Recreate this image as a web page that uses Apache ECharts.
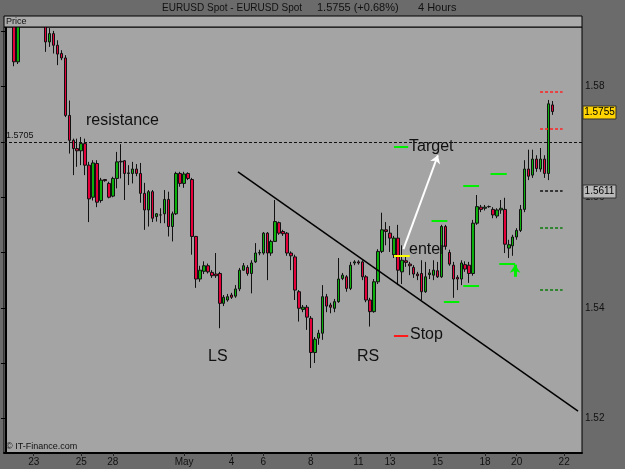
<!DOCTYPE html>
<html><head><meta charset="utf-8">
<script src="https://cdn.jsdelivr.net/npm/echarts@6/dist/echarts.min.js"></script>
<style>html,body{margin:0;padding:0;background:#6b6b6b}#c{width:625px;height:469px}</style>
</head><body><div id="c"></div>
<script>
// ---- data (EURUSD 4h, one entry per bar slot) ----
const opens  = [1.5985,1.5975,1.5935,1.5845,1.5925,1.5950,1.5945,1.5930,1.5940,1.5925,
1.5915,1.5881,1.5896,1.5875,1.5860,1.5852,1.5748,1.5703,1.5688,1.5684,
1.5697,1.5658,1.5600,1.5661,1.5594,1.5632,1.5625,1.5602,1.5634,1.5664,
1.5666,1.5643,1.5643,1.5651,1.5643,1.5607,1.5577,1.5610,1.5565,1.5568,
1.5570,1.5596,1.5547,1.5570,1.5643,1.5625,1.5643,1.5632,1.5529,1.5452,
1.5466,1.5476,1.5464,1.5461,1.5462,1.5408,1.5414,1.5423,1.5421,1.5434,
1.5468,1.5473,1.5462,1.5483,1.5499,1.5499,1.5535,1.5499,1.5520,1.5554,
1.5538,1.5535,1.5499,1.5492,1.5429,1.5397,1.5401,1.5381,1.5319,1.5345,
1.5354,1.5420,1.5405,1.5399,1.5411,1.5453,1.5456,1.5435,1.5481,1.5483,
1.5483,1.5456,1.5414,1.5393,1.5447,1.5502,1.5541,1.5535,1.5496,1.5526,
1.5465,1.5485,1.5479,1.5473,1.5461,1.5462,1.5429,1.5460,1.5459,1.5467,
1.5456,1.5547,1.5500,1.5477,1.5455,1.5452,1.5478,1.5477,1.5462,1.5553,
1.5582,1.5580,1.5583,1.5578,1.5566,1.5577,1.5578,1.5508,1.5512,1.5528,
1.5540,1.5578,1.5651,1.5640,1.5669,1.5651,1.5669,1.5643,1.5767];
const closes = [1.5975,1.5945,1.5845,1.5925,1.5950,1.5945,1.5930,1.5940,1.5925,1.5920,
1.5881,1.5896,1.5875,1.5859,1.5852,1.5748,1.5703,1.5688,1.5684,1.5697,
1.5658,1.5597,1.5662,1.5591,1.5631,1.5630,1.5600,1.5634,1.5664,1.5665,
1.5643,1.5644,1.5651,1.5643,1.5607,1.5577,1.5610,1.5562,1.5570,1.5568,
1.5596,1.5547,1.5570,1.5643,1.5625,1.5642,1.5634,1.5529,1.5452,1.5468,
1.5476,1.5465,1.5458,1.5458,1.5408,1.5419,1.5420,1.5419,1.5434,1.5468,
1.5476,1.5462,1.5481,1.5499,1.5500,1.5535,1.5499,1.5520,1.5556,1.5535,
1.5534,1.5499,1.5494,1.5432,1.5399,1.5401,1.5383,1.5319,1.5343,1.5354,
1.5420,1.5403,1.5401,1.5411,1.5452,1.5459,1.5435,1.5477,1.5483,1.5481,
1.5456,1.5414,1.5393,1.5447,1.5502,1.5541,1.5538,1.5526,1.5526,1.5468,
1.5486,1.5482,1.5476,1.5461,1.5458,1.5429,1.5456,1.5463,1.5468,1.5456,
1.5547,1.5511,1.5479,1.5452,1.5452,1.5481,1.5470,1.5462,1.5553,1.5583,
1.5578,1.5582,1.5583,1.5568,1.5577,1.5580,1.5515,1.5514,1.5528,1.5540,
1.5578,1.5651,1.5638,1.5669,1.5652,1.5669,1.5643,1.5769,1.5755];
const lows   = [1.5960,1.5930,1.5837,1.5841,1.5915,1.5935,1.5920,1.5918,1.5915,1.5912,
1.5863,1.5872,1.5860,1.5839,1.5848,1.5745,1.5679,1.5640,1.5655,1.5658,
1.5640,1.5555,1.5594,1.5582,1.5590,1.5628,1.5598,1.5600,1.5616,1.5634,
1.5595,1.5622,1.5625,1.5638,1.5590,1.5541,1.5547,1.5555,1.5556,1.5553,
1.5553,1.5529,1.5520,1.5568,1.5619,1.5617,1.5631,1.5496,1.5436,1.5447,
1.5461,1.5462,1.5454,1.5454,1.5363,1.5403,1.5411,1.5416,1.5418,1.5430,
1.5467,1.5458,1.5426,1.5481,1.5495,1.5496,1.5450,1.5494,1.5519,1.5532,
1.5530,1.5494,1.5468,1.5414,1.5375,1.5392,1.5360,1.5291,1.5300,1.5333,
1.5342,1.5392,1.5390,1.5392,1.5409,1.5450,1.5429,1.5432,1.5477,1.5478,
1.5450,1.5410,1.5366,1.5391,1.5443,1.5499,1.5513,1.5501,1.5490,1.5441,
1.5443,1.5474,1.5459,1.5454,1.5450,1.5414,1.5427,1.5452,1.5450,1.5454,
1.5454,1.5505,1.5476,1.5418,1.5432,1.5441,1.5465,1.5445,1.5458,1.5550,
1.5573,1.5576,1.5581,1.5562,1.5562,1.5570,1.5499,1.5490,1.5494,1.5523,
1.5537,1.5573,1.5631,1.5635,1.5646,1.5646,1.5635,1.5631,1.5749];
const highs  = [1.6010,1.5990,1.5950,1.5940,1.5960,1.5975,1.5960,1.5955,1.5950,1.5940,
1.5920,1.5906,1.5901,1.5884,1.5866,1.5857,1.5775,1.5706,1.5706,1.5709,
1.5706,1.5664,1.5667,1.5667,1.5635,1.5633,1.5628,1.5637,1.5682,1.5696,
1.5667,1.5658,1.5664,1.5660,1.5662,1.5626,1.5613,1.5613,1.5571,1.5580,
1.5613,1.5610,1.5574,1.5646,1.5646,1.5646,1.5645,1.5635,1.5530,1.5476,
1.5484,1.5480,1.5468,1.5499,1.5465,1.5423,1.5425,1.5427,1.5441,1.5472,
1.5481,1.5477,1.5486,1.5517,1.5505,1.5537,1.5537,1.5523,1.5595,1.5556,
1.5541,1.5537,1.5502,1.5496,1.5432,1.5405,1.5405,1.5385,1.5347,1.5360,
1.5441,1.5425,1.5409,1.5416,1.5490,1.5463,1.5459,1.5483,1.5486,1.5486,
1.5486,1.5459,1.5418,1.5452,1.5506,1.5572,1.5555,1.5548,1.5530,1.5550,
1.5513,1.5495,1.5483,1.5477,1.5465,1.5486,1.5483,1.5470,1.5486,1.5483,
1.5550,1.5550,1.5505,1.5483,1.5459,1.5486,1.5484,1.5483,1.5559,1.5604,
1.5586,1.5586,1.5585,1.5582,1.5580,1.5595,1.5599,1.5523,1.5532,1.5544,
1.5586,1.5667,1.5686,1.5686,1.5676,1.5689,1.5676,1.5776,1.5774];

const slotCount = 146;                       // bar slots on the time axis
const dateTickSlots  = [7,19,27,45,57,65,77,89,97,109,121,129,141];
const dateTickLabels = ['23','25','28','May','4','6','8','11','13','15','18','20','22'];
const priceTicks  = [1.52,1.53,1.54,1.55,1.56,1.57,1.58,1.59];
const priceLabels = [1.52,1.54,1.56,1.58];
const priceMin = 1.51372, priceMax = 1.5908;

const resistanceLevel = 1.5705;
const lastPrice = 1.5755;
const refPrice  = 1.5611;

// annotations in (slot, price) coordinates
const trendLine   = [[58.6,1.5646],[144.5,1.5213]];
const targetArrow = [[100.4,1.5506],[109.1,1.5676]];
const greenMarks  = [[98.0,101.6,1.5691],[107.5,111.5,1.5558],[115.5,119.5,1.5620],[122.4,126.5,1.5642],
                     [110.6,114.5,1.5410],[115.5,119.5,1.5439],[124.6,128.6,1.5479]];
const enterMark   = [98.0,102.0,1.5494];
const stopMark    = [98.0,101.6,1.5350];
const upArrow     = [[128.6,1.5456],[128.6,1.5478]];
const levelSpan   = [134.9,140.6];
const redLevels   = [1.5791,1.5723];
const blackLevels = [1.5611];
const greenLevels = [1.5544,1.5433];

// ---- chart ----
const FONT = 'Liberation Sans';
const candleData = opens.map((o,i)=>[o, closes[i], lows[i], highs[i]]);
const slots = Array.from({length: slotCount}, (_, i) => String(i));
const isDateTick = (i) => dateTickSlots.indexOf(i) >= 0;

const seg = (a, b, y) => ({coords: [[a, y], [b, y]]});
const ls = (color, width, type) => ({lineStyle: {color: color, width: width, type: type || 'solid', opacity: 1, curveness: 0}});
const lineItems = [];
lineItems.push(Object.assign({coords: trendLine}, ls('#000', 1.5)));
greenMarks.forEach(m => lineItems.push(Object.assign(seg(m[0], m[1], m[2]), ls('#00ee00', 2))));
lineItems.push(Object.assign(seg(enterMark[0], enterMark[1], enterMark[2]), ls('#ffff00', 2)));
lineItems.push(Object.assign(seg(stopMark[0], stopMark[1], stopMark[2]), ls('#ff1a1a', 2)));
redLevels.forEach(v => lineItems.push(Object.assign(seg(levelSpan[0], levelSpan[1], v), ls('#ff2020', 1.5, [3, 2]))));
blackLevels.forEach(v => lineItems.push(Object.assign(seg(levelSpan[0], levelSpan[1], v), ls('#111', 1.5, [3, 2]))));
greenLevels.forEach(v => lineItems.push(Object.assign(seg(levelSpan[0], levelSpan[1], v), ls('#0a7a0a', 1.5, [3, 2]))));

const txt = (id, x, y, t, size, extra) => Object.assign({
  id: id, type: 'text', x: x, y: y, z: 100,
  style: {text: t, fill: '#111', font: size + 'px "' + FONT + '"', verticalAlign: 'middle'}
}, extra || {});

const option = {
  animation: false,
  backgroundColor: '#6b6b6b',
  grid: {left: 4, right: 43, top: 27, bottom: 16, show: true, backgroundColor: '#a4a4a4', borderColor: '#000', borderWidth: 1},
  xAxis: [{
    type: 'category', data: slots, boundaryGap: true,
    axisLine: {lineStyle: {color: '#000', width: 2}},
    axisTick: {show: true, alignWithLabel: true, interval: (i) => isDateTick(i), length: 3, lineStyle: {color: '#222'}},
    axisLabel: {interval: (i) => isDateTick(i), formatter: (v) => dateTickLabels[dateTickSlots.indexOf(Number(v))] || '',
      color: '#111', fontSize: 10, fontFamily: FONT, margin: 4},
    splitLine: {show: false}
  }, {
    type: 'value', min: -0.5, max: slotCount - 0.5, show: false
  }],
  yAxis: {
    type: 'value', position: 'right', min: priceMin, max: priceMax, scale: true,
    axisLine: {show: true, lineStyle: {color: '#000', width: 2}},
    axisTick: {show: true, inside: true, length: 5, customValues: priceTicks, lineStyle: {color: '#000'}},
    axisLabel: {customValues: priceLabels, formatter: (v) => Number(v).toFixed(2), color: '#111', fontSize: 10, fontFamily: FONT, margin: 3, hideOverlap: false},
    splitLine: {show: false}
  },
  series: [{
    type: 'candlestick', xAxisIndex: 0, yAxisIndex: 0, data: candleData, barWidth: 3, clip: true,
    itemStyle: {color: '#0cb00c', color0: '#e4003a', borderColor: '#111', borderColor0: '#111', borderWidth: 1},
    markLine: {
      symbol: 'none', silent: true, animation: false,
      data: [
        {yAxis: resistanceLevel, lineStyle: {color: '#111', type: [3, 2], width: 1},
          label: {show: true, position: 'insideStartTop', formatter: String(resistanceLevel), color: '#111', fontSize: 9, fontFamily: FONT, distance: [2, 2]}}
      ]
    }
  }, {
    type: 'lines', coordinateSystem: 'cartesian2d', xAxisIndex: 1, yAxisIndex: 0, silent: true, z: 5,
    symbol: 'none', lineStyle: {opacity: 1}, data: lineItems
  }, {
    type: 'lines', coordinateSystem: 'cartesian2d', xAxisIndex: 1, yAxisIndex: 0, silent: true, z: 6,
    symbol: ['none', 'arrow'], symbolSize: 8, lineStyle: {opacity: 1},
    data: [
      Object.assign({coords: targetArrow}, ls('#ffffff', 2)),
      Object.assign({coords: upArrow}, ls('#00ee00', 3))
    ]
  }],
  graphic: [
    {id: 'topbg', type: 'rect', z: 80, shape: {x: 0, y: 0, width: 625, height: 16}, style: {fill: '#6b6b6b'}},
    {id: 'band', type: 'rect', z: 90, shape: {x: 4, y: 16, width: 578, height: 11}, style: {fill: '#ababab', stroke: '#000', lineWidth: 1}},
    txt('price', 6, 21.5, 'Price', 9, {z: 91}),
    txt('t1', 162, 8, 'EURUSD Spot - EURUSD Spot', 10),
    txt('t2', 317, 8, '1.5755 (+0.68%)', 11),
    txt('t3', 418, 8, '4 Hours', 11),
    txt('res', 86, 121, 'resistance', 16),
    txt('ls', 208, 357, 'LS', 16),
    txt('rs', 357, 357, 'RS', 16),
    txt('tg', 409, 147, 'Target', 16),
    txt('en', 409, 250, 'enter', 16),
    txt('st', 410, 335, 'Stop', 16),
    txt('cp', 6, 447, '\u00a9 IT-Finance.com', 9)
  ]
};
const chart = echarts.init(document.getElementById('c'), null, {renderer: 'canvas', width: 625, height: 469});
chart.setOption(option);

// price tags on the right axis, placed through the chart's own y scale
function tag(id, value, bg) {
  const y = chart.convertToPixel({yAxisIndex: 0}, value);
  return [
    {id: id + 'r', type: 'rect', z: 110, shape: {x: 583, y: Math.round(y) - 6, width: 33, height: 13},
      style: {fill: bg, stroke: '#333', lineWidth: 1}},
    {id: id + 't', type: 'text', z: 111, x: 599.5, y: Math.round(y) + 0.5,
      style: {text: value.toFixed(4), fill: '#000', font: '10px "' + FONT + '"', align: 'center', verticalAlign: 'middle'}}
  ];
}
chart.setOption({graphic: [].concat(tag('last', lastPrice, '#ffd400'), tag('ref', refPrice, '#b8b8b8'))});
</script>
</body></html>
